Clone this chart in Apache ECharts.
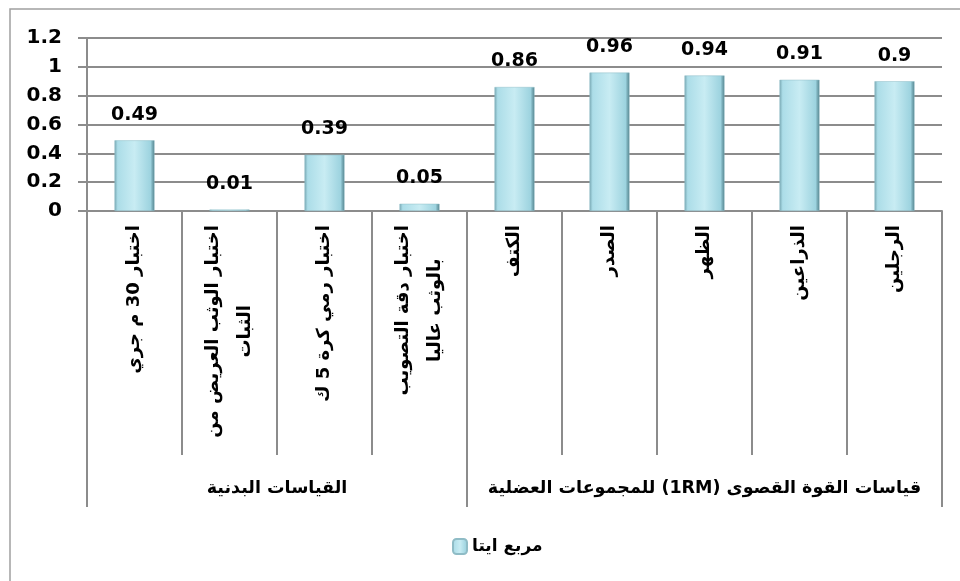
<!DOCTYPE html>
<html>
<head>
<meta charset="utf-8">
<script src="https://cdn.jsdelivr.net/npm/echarts@6/dist/echarts.min.js"></script>
<style>
    html, body { margin: 0; padding: 0; background: #fff; }
    #chart { width: 960px; height: 581px; }
</style>
</head>
<body>
<div id="chart"></div>
<script>
    // الاختبارات (المستوى الأول من المحور)
    var categories = [
        'اختبار 30 م جري',
        'اختبار الوثب العريض من\nالثبات',
        'اختبار رمي كرة 5 ك',
        'اختبار دقة التصويب\nبالوثب عاليا',
        'الكتف',
        'الصدر',
        'الظهر',
        'الذراعين',
        'الرجلين'
    ];
    // المجموعات (المستوى الثاني)
    var groups = ['القياسات البدنية', 'قياسات القوة القصوى (1RM) للمجموعات العضلية'];
    var groupCenters = [2, 6.5];
    var groupEdges = [0, 4, 9];
    // مربع ايتا
    var etaSquared = [0.49, 0.01, 0.39, 0.05, 0.86, 0.96, 0.94, 0.91, 0.9];
    var seriesName = 'مربع ايتا';

    var font = '"DejaVu Sans", sans-serif';
    var gridGray = '#8c8c8c';

    // نص عربي باتجاه من اليمين إلى اليسار داخل الـ canvas
    function rtl(s) {
        return '\u202B' + s + '\u202C';
    }

    var chart = echarts.init(document.getElementById('chart'));
    chart.setOption({
        animation: false,
        textStyle: { fontFamily: font },
        graphic: [{
            type: 'rect',
            shape: { x: 10, y: 9, width: 980, height: 600 },
            style: { fill: 'none', stroke: '#a0a0a0', lineWidth: 1.5 },
            silent: true
        }],
        grid: { left: 87, right: 18, top: 38, bottom: 370 },
        legend: {
            left: 447,
            top: 533,
            itemWidth: 14,
            itemHeight: 15,
            itemGap: 6,
            textStyle: { fontFamily: font, fontSize: 17, fontWeight: 'bold', color: '#000' },
            data: [seriesName]
        },
        xAxis: [{
            type: 'category',
            data: categories,
            axisLine: { show: true, lineStyle: { color: gridGray, width: 2 } },
            axisTick: { show: true, alignWithLabel: false, interval: 0, length: 244, lineStyle: { color: gridGray, width: 2 } },
            axisLabel: {
                interval: 0,
                rotate: 90,
                margin: 14,
                color: '#000',
                formatter: function (v) {
                    return v.split('\n').map(function (s) { return '{c|' + rtl(s) + '}'; }).join('\n');
                },
                rich: {
                    c: { align: 'center', fontFamily: font, fontSize: 18, fontWeight: 'bold', color: '#000', lineHeight: 32 }
                }
            }
        }, {
            type: 'value',
            position: 'bottom',
            offset: 244,
            min: 0,
            max: 9,
            axisLine: { show: false },
            splitLine: { show: false },
            axisTick: {
                show: true,
                customValues: groupEdges,
                length: 52,
                lineStyle: { color: gridGray, width: 2 }
            },
            axisLabel: {
                customValues: groupCenters,
                margin: 24,
                color: '#000',
                fontFamily: font,
                fontSize: 17.5,
                fontWeight: 'bold',
                formatter: function (v) {
                    var name = groups[groupCenters.indexOf(v)];
                    return name ? rtl(name) : '';
                }
            }
        }],
        yAxis: {
            type: 'value',
            min: 0,
            max: 1.2,
            interval: 0.2,
            axisLine: { show: true, lineStyle: { color: gridGray, width: 2 } },
            axisTick: { show: true, length: 9, lineStyle: { color: gridGray, width: 2 } },
            splitLine: { lineStyle: { color: gridGray, width: 2 } },
            axisLabel: { margin: 25, color: '#000', fontFamily: font, fontSize: 20, fontWeight: 'bold' }
        },
        series: [{
            name: seriesName,
            type: 'bar',
            xAxisIndex: 0,
            data: etaSquared,
            barWidth: 40,
            itemStyle: {
                color: new echarts.graphic.LinearGradient(0, 0, 1, 0, [
                    { offset: 0, color: '#76a7b2' },
                    { offset: 0.08, color: '#acdde8' },
                    { offset: 0.5, color: '#c8ecf3' },
                    { offset: 0.9, color: '#9dd3df' },
                    { offset: 1, color: '#4f7f8a' }
                ]),
                borderColor: '#8fbcc6',
                borderWidth: 0.5
            },
            label: {
                show: true,
                position: 'top',
                distance: 16,
                color: '#000',
                fontFamily: font,
                fontSize: 19,
                fontWeight: 'bold'
            }
        }]
    });
</script>
</body>
</html>
